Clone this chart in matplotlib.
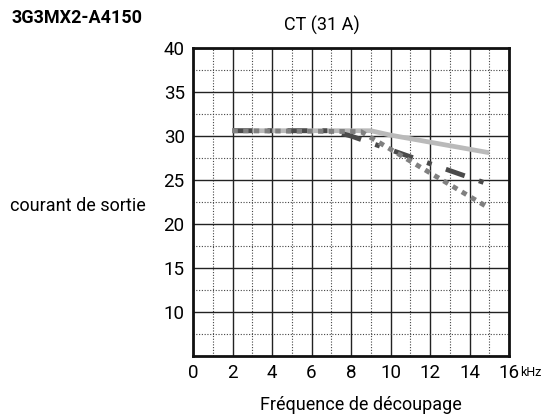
import matplotlib
matplotlib.use("Agg")
import matplotlib.pyplot as plt
from matplotlib.ticker import MultipleLocator

plt.rcParams['font.family'] = ['Roboto', 'Liberation Sans', 'DejaVu Sans']

# courbes
freq_ct = [2, 9, 10, 15]
cour_ct = [30.6, 30.6, 30.1, 28.1]
freq_dash = [2, 7, 8, 15]
cour_dash = [30.6, 30.6, 30.0, 24.5]
freq_dot = [2, 8.5, 15]
cour_dot = [30.6, 30.5, 21.8]

xticks = [0, 2, 4, 6, 8, 10, 12, 14, 16]
xlabels = ['0', '2', '4', '6', '8', '10', '12', '14', '16']
yticks = [10, 15, 20, 25, 30, 35, 40]

fig = plt.figure(figsize=(5.42, 4.17), dpi=100)
ax = fig.add_axes([193/542, 1-356/417, 316/542, 308/417])

ax.plot(freq_ct, cour_ct, color='#bababa', lw=3.4, solid_capstyle='butt', zorder=3)
ax.plot(freq_dash, cour_dash, color='#4a4a4a', lw=3.5, dashes=(4.1, 3.1, 1.0, 3.1), zorder=4)
ax.plot(freq_dot, cour_dot, color='#808080', lw=3.5, dashes=(1.1, 1.1), zorder=5)

ax.set_xlim(0, 16)
ax.set_ylim(5, 40)
ax.set_xticks(xticks)
ax.set_xticklabels(xlabels)
ax.set_yticks(yticks)
ax.xaxis.set_minor_locator(MultipleLocator(1))
ax.yaxis.set_minor_locator(MultipleLocator(2.5))
ax.grid(which='major', color='#222222', lw=1.0, ls='-')
ax.grid(which='minor', color='#444444', lw=0.8, ls=(0, (1, 1.5)))
ax.tick_params(which='both', length=0, labelsize=13.5, pad=6)
for s in ax.spines.values():
    s.set_linewidth(2)
    s.set_color('#111111')
ax.set_axisbelow(True)

fig.text(541/542, 1-373/417, 'kHz', fontsize=9, ha='right', va='center')

fig.text(12/542, 1-18/417, '3G3MX2-A4150', fontsize=13, fontweight='bold', va='center', ha='left')
fig.text(322/542, 1-25/417, 'CT (31 A)', fontsize=13, va='center', ha='center')
fig.text(10/542, 1-206/417, 'courant de sortie', fontsize=13, va='center', ha='left')
fig.text(361/542, 1-405/417, 'Fréquence de découpage', fontsize=13, va='center', ha='center')

fig.savefig('out.png', dpi=100)
